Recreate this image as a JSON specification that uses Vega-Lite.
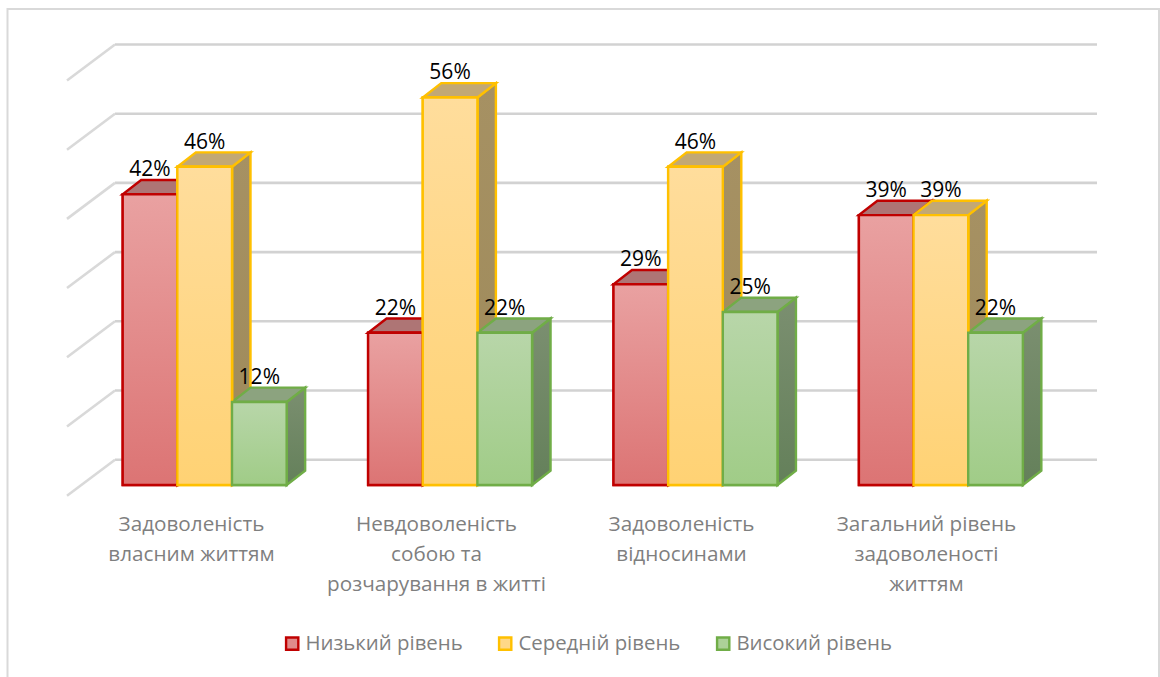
{
"$schema":"https://vega.github.io/schema/vega-lite/v6.json",
"width":1160,"height":677,"padding":0,"autosize":{"type":"none"},
"background":"white",
"config":{"view":{"stroke":null}},
"data":{"values":[
{"category":"Задоволеність\nвласним життям","level":"Низький рівень","value":42},
{"category":"Задоволеність\nвласним життям","level":"Середній рівень","value":46},
{"category":"Задоволеність\nвласним життям","level":"Високий рівень","value":12},
{"category":"Невдоволеність\nсобою та\nрозчарування в житті","level":"Низький рівень","value":22},
{"category":"Невдоволеність\nсобою та\nрозчарування в житті","level":"Середній рівень","value":56},
{"category":"Невдоволеність\nсобою та\nрозчарування в житті","level":"Високий рівень","value":22},
{"category":"Задоволеність\nвідносинами","level":"Низький рівень","value":29},
{"category":"Задоволеність\nвідносинами","level":"Середній рівень","value":46},
{"category":"Задоволеність\nвідносинами","level":"Високий рівень","value":25},
{"category":"Загальний рівень\nзадоволеності\nжиттям","level":"Низький рівень","value":39},
{"category":"Загальний рівень\nзадоволеності\nжиттям","level":"Середній рівень","value":39},
{"category":"Загальний рівень\nзадоволеності\nжиттям","level":"Високий рівень","value":22}
]},
"transform":[
{"calculate":"indexof(['Задоволеність\\nвласним життям','Невдоволеність\\nсобою та\\nрозчарування в житті','Задоволеність\\nвідносинами','Загальний рівень\\nзадоволеності\\nжиттям'],datum.category)","as":"ci"},
{"calculate":"indexof(['Низький рівень','Середній рівень','Високий рівень'],datum.level)","as":"li"},
{"calculate":"122.7+245.4*datum.ci+54.65*datum.li","as":"x0"},
{"calculate":"datum.x0+54.65","as":"x1"},
{"calculate":"format(datum.value,'d')+'%'","as":"label"}
],
"layer":[
{"data":{"values":[{"a":7.5,"b":1159,"c":68.8,"d":-40}]},
 "mark":{"type":"rect","fill":"white","stroke":"#D9D9D9","strokeWidth":2},
 "encoding":{"x":{"field":"a","type":"quantitative","axis":null,"scale":{"domain":[0,1160],"nice":false,"zero":false}},"x2":{"field":"b"},"y":{"field":"c","type":"quantitative","axis":null,"scale":{"domain":[-27.746,70.087],"nice":false,"zero":false}},"y2":{"field":"d"}}},
{"data":{"values":[{"t":0},{"t":10},{"t":20},{"t":30},{"t":40},{"t":50},{"t":60}]},
 "transform":[{"calculate":"datum.t+3.656","as":"yb"},{"calculate":"datum.yb-5.2","as":"yf"}],
 "layer":[
 {"mark":{"type":"rule","stroke":"#D2D2D2","strokeWidth":2.6},
  "encoding":{"x":{"datum":115,"type":"quantitative"},"x2":{"datum":1097},"y":{"field":"yb","type":"quantitative"}}},
 {"mark":{"type":"rule","stroke":"#D9D9D9","strokeWidth":2.6},
  "encoding":{"x":{"datum":67,"type":"quantitative"},"x2":{"datum":115},"y":{"field":"yf","type":"quantitative"},"y2":{"field":"yb"}}}
 ]},
{"transform":[
 {"calculate":"[datum.x1,datum.x1+18.5]","as":"xs"},
 {"calculate":"[0,2.07]","as":"los"},
 {"calculate":"[datum.value,datum.value+2.07]","as":"his"},
 {"flatten":["xs","los","his"]}],
 "encoding":{"x":{"field":"xs","type":"quantitative"},"y":{"field":"los","type":"quantitative","stack":null},"y2":{"field":"his"},
  "detail":{"field":"category"}},
 "layer":[
 {"transform":[{"filter":"datum.li===0"}],"mark":{"type":"area","orient":"vertical","strokeWidth":2.4,"stroke":"#C00000","fill":"#8F5A5A"}},
 {"transform":[{"filter":"datum.li===1"}],"mark":{"type":"area","orient":"vertical","strokeWidth":2.4,"stroke":"#FFC000","fill":{"gradient":"linear","x1":0,"y1":0,"x2":0,"y2":1,"stops":[{"offset":0,"color":"#A69163"},{"offset":1,"color":"#9E8A5A"}]}}},
 {"transform":[{"filter":"datum.li===2"}],"mark":{"type":"area","orient":"vertical","strokeWidth":2.4,"stroke":"#70AD47","fill":{"gradient":"linear","x1":0,"y1":0,"x2":0,"y2":1,"stops":[{"offset":0,"color":"#7B8F70"},{"offset":1,"color":"#64805A"}]}}}
 ]},
{"transform":[
 {"calculate":"[datum.x0,datum.x0+18.5,datum.x1,datum.x1+18.5]","as":"xs"},
 {"calculate":"[datum.value,datum.value,datum.value,datum.value+2.07]","as":"los"},
 {"calculate":"[datum.value,datum.value+2.07,datum.value+2.07,datum.value+2.07]","as":"his"},
 {"flatten":["xs","los","his"]}],
 "encoding":{"x":{"field":"xs","type":"quantitative"},"y":{"field":"los","type":"quantitative","stack":null},"y2":{"field":"his"},
  "detail":{"field":"category"}},
 "layer":[
 {"transform":[{"filter":"datum.li===0"}],"mark":{"type":"area","orient":"vertical","strokeWidth":2.4,"stroke":"#C00000","fill":"#AE7575"}},
 {"transform":[{"filter":"datum.li===1"}],"mark":{"type":"area","orient":"vertical","strokeWidth":2.4,"stroke":"#FFC000","fill":"#C2A875"}},
 {"transform":[{"filter":"datum.li===2"}],"mark":{"type":"area","orient":"vertical","strokeWidth":2.4,"stroke":"#70AD47","fill":"#8CA37F"}}
 ]},
{"mark":{"type":"rect","strokeWidth":2.4},
 "encoding":{"x":{"field":"x0","type":"quantitative"},"x2":{"field":"x1"},"y":{"field":"value","type":"quantitative"},"y2":{"datum":0},
  "fill":{"field":"level","type":"nominal",
   "scale":{"domain":["Низький рівень","Середній рівень","Високий рівень"],"range":["#E08B8B","#FFD888","#ACD198"]},
   "legend":{"orient":"none","legendX":282,"legendY":633,"direction":"horizontal","columns":3,"title":null,
    "symbolType":"square","symbolSize":150,"symbolStrokeWidth":2.4,"labelFont":"Open Sans","labelFontSize":20.4,"labelColor":"#7F7F7F","labelOffset":3,"columnPadding":31,"labelLimit":300}},
  "stroke":{"field":"level","type":"nominal","scale":{"domain":["Низький рівень","Середній рівень","Високий рівень"],"range":["#C00000","#FFC000","#70AD47"]}}}},
{"encoding":{"x":{"field":"x0","type":"quantitative"},"x2":{"field":"x1"},"y":{"field":"value","type":"quantitative"},"y2":{"datum":0}},
 "layer":[
 {"transform":[{"filter":"datum.li===0"}],"mark":{"type":"rect","strokeWidth":2.4,"stroke":"#C00000","fill":{"gradient":"linear","x1":0,"y1":0,"x2":0,"y2":1,"stops":[{"offset":0,"color":"#E9A1A1"},{"offset":1,"color":"#DC7474"}]}}},
 {"transform":[{"filter":"datum.li===1"}],"mark":{"type":"rect","strokeWidth":2.4,"stroke":"#FFC000","fill":{"gradient":"linear","x1":0,"y1":0,"x2":0,"y2":1,"stops":[{"offset":0,"color":"#FFDD9C"},{"offset":1,"color":"#FFD274"}]}}},
 {"transform":[{"filter":"datum.li===2"}],"mark":{"type":"rect","strokeWidth":2.4,"stroke":"#70AD47","fill":{"gradient":"linear","x1":0,"y1":0,"x2":0,"y2":1,"stops":[{"offset":0,"color":"#B8D6A9"},{"offset":1,"color":"#A0CC87"}]}}}
 ]},
{"transform":[{"calculate":"datum.x0+27.3","as":"lx"},{"calculate":"datum.value+3.47","as":"ly"}],
 "mark":{"type":"text","font":"Open Sans","fontSize":21,"fill":"#000000","baseline":"middle","align":"center"},
 "encoding":{"x":{"field":"lx","type":"quantitative"},"y":{"field":"ly","type":"quantitative"},"text":{"field":"label"}}},
{"transform":[{"filter":"datum.li===0"},{"calculate":"191.5+245*datum.ci","as":"lx"}],
 "mark":{"type":"text","font":"Open Sans","fontSize":20.7,"fill":"#7F7F7F","baseline":"top","align":"center","lineBreak":"\n","lineHeight":30},
 "encoding":{"x":{"field":"lx","type":"quantitative"},"y":{"datum":-4.35,"type":"quantitative"},"text":{"field":"category"}}}
]
}
